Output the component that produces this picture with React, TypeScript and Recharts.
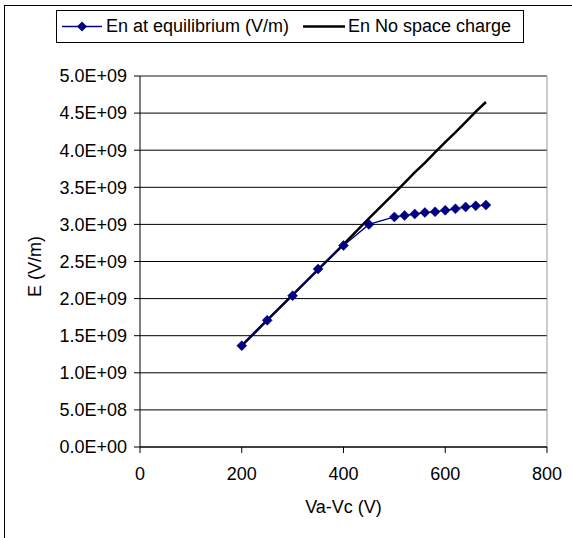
import React from 'react';
import {
  ComposedChart,
  Line,
  XAxis,
  YAxis,
  CartesianGrid,
  ReferenceLine,
  Legend,
  Label,
} from 'recharts';

const voltages = [200, 250, 300, 350, 400, 450, 500, 520, 540, 560, 580, 600, 620, 640, 660, 680];
const enEquilibrium = [
  1.365e9, 1.707e9, 2.04e9, 2.4e9, 2.716e9, 3.0e9, 3.1e9, 3.12e9, 3.14e9, 3.16e9, 3.17e9, 3.19e9,
  3.21e9, 3.235e9, 3.25e9, 3.26e9,
];
const enNoSpaceCharge = [
  1.365e9, 1.71e9, 2.05e9, 2.39e9, 2.73e9, 3.08e9, 3.42e9, 3.56e9, 3.7e9, 3.83e9, 3.97e9, 4.11e9,
  4.24e9, 4.38e9, 4.52e9, 4.65e9,
];
const xTicks = [0, 200, 400, 600, 800];
const yTicks = [0, 5e8, 1e9, 1.5e9, 2e9, 2.5e9, 3e9, 3.5e9, 4e9, 4.5e9, 5e9];
const seriesNames = ['En at equilibrium (V/m)', 'En No space charge'];
const xTitle = 'Va-Vc (V)';
const yTitle = 'E (V/m)';

const FONT = '"Liberation Sans", Arial, Helvetica, sans-serif';
const NAVY = '#000080';

const data = voltages.map((v, i) => ({ v, eq: enEquilibrium[i], nsc: enNoSpaceCharge[i] }));

const fmtY = (val: number) => {
  const [m, e] = val.toExponential(1).split('e');
  const sign = e[0] === '-' ? '-' : '+';
  const digits = e.replace(/[+-]/, '').padStart(2, '0');
  return `${m}E${sign}${digits}`;
};

const Diamond = (props: any) => {
  const { cx, cy } = props;
  if (cx == null || cy == null) return null;
  const r = 5;
  return (
    <polygon
      points={`${cx},${cy - r} ${cx + r},${cy} ${cx},${cy + r} ${cx - r},${cy}`}
      fill={NAVY}
      stroke={NAVY}
      strokeWidth={0.5}
    />
  );
};

const LegendBox = (props: any) => {
  const payload = props.payload || [];
  const eq = payload.find((p: any) => p.dataKey === 'eq');
  const nsc = payload.find((p: any) => p.dataKey === 'nsc');
  return (
    <div
      style={{
        width: 466,
        height: 31,
        border: '1px solid #000',
        background: '#fff',
        position: 'relative',
        fontFamily: FONT,
        fontSize: 18,
        color: '#000',
      }}
    >
      <svg width={44} height={31} style={{ position: 'absolute', left: 5, top: 0 }}>
        <line x1={0} y1={15.5} x2={40} y2={15.5} stroke={NAVY} strokeWidth={1.3} />
        <polygon points="20,10.5 25,15.5 20,20.5 15,15.5" fill={NAVY} />
      </svg>
      <span style={{ position: 'absolute', left: 49, top: 0, lineHeight: '31px', whiteSpace: 'nowrap' }}>
        {eq ? eq.value : seriesNames[0]}
      </span>
      <svg width={44} height={31} style={{ position: 'absolute', left: 246, top: 0 }}>
        <line x1={0} y1={15.5} x2={42} y2={15.5} stroke="#000" strokeWidth={2.5} />
      </svg>
      <span style={{ position: 'absolute', left: 291, top: 0, lineHeight: '31px', whiteSpace: 'nowrap' }}>
        {nsc ? nsc.value : seriesNames[1]}
      </span>
    </div>
  );
};

export default function App() {
  return (
    <div
      style={{
        position: 'fixed',
        left: 0,
        top: 0,
        width: 572,
        height: 538,
        overflow: 'hidden',
        background: '#fff',
      }}
    >
      <div
        style={{
          position: 'absolute',
          left: 4,
          top: 5,
          width: 700,
          height: 700,
          border: '1px solid #000',
          boxSizing: 'border-box',
        }}
      />
      <div style={{ position: 'absolute', left: 0, top: 0 }}>
        <ComposedChart
          width={572}
          height={538}
          data={data}
          margin={{ top: 76, right: 25, bottom: 0, left: 0 }}
          style={{ fontFamily: FONT }}
        >
          <CartesianGrid vertical={false} stroke="#000" strokeWidth={1} />
          <XAxis
            type="number"
            dataKey="v"
            domain={[0, 800]}
            ticks={xTicks}
            height={91}
            axisLine={{ stroke: '#000', strokeWidth: 1 }}
            tickLine={{ stroke: '#000' }}
            tickSize={6}
            tickMargin={14}
            tick={{ fontSize: 18, fill: '#000', fontFamily: FONT }}
            allowDataOverflow
          >
            <Label
              content={(p: any) => {
                const vb = p.viewBox || { x: 140, y: 447, width: 407, height: 91 };
                return (
                  <text
                    x={vb.x + vb.width / 2}
                    y={vb.y + 66}
                    textAnchor="middle"
                    fontSize={18}
                    fill="#000"
                    fontFamily={FONT}
                  >
                    {xTitle}
                  </text>
                );
              }}
            />
          </XAxis>
          <YAxis
            type="number"
            domain={[0, 5e9]}
            ticks={yTicks}
            width={140}
            tickFormatter={fmtY}
            axisLine={{ stroke: '#000', strokeWidth: 1 }}
            tickLine={{ stroke: '#000' }}
            tickSize={6}
            tickMargin={7}
            tick={{ fontSize: 18, fill: '#000', fontFamily: FONT }}
            allowDataOverflow
          >
            <Label
              content={(p: any) => {
                const vb = p.viewBox || { x: 0, y: 76, width: 140, height: 371 };
                const cx = vb.x + 41;
                const cy = vb.y + vb.height / 2 + 5;
                return (
                  <text
                    x={cx}
                    y={cy}
                    transform={`rotate(-90 ${cx} ${cy})`}
                    textAnchor="middle"
                    fontSize={18}
                    fill="#000"
                    fontFamily={FONT}
                  >
                    {yTitle}
                  </text>
                );
              }}
            />
          </YAxis>
          <ReferenceLine y={5e9} stroke="#999" strokeWidth={1} />
          <ReferenceLine x={800} stroke="#999" strokeWidth={1} />
          <Legend
            content={<LegendBox />}
            layout="vertical"
            verticalAlign="middle"
            align="center"
            wrapperStyle={{ left: 56, top: 10, width: 468, height: 33 }}
          />
          <Line
            type="linear"
            dataKey="nsc"
            name={seriesNames[1]}
            stroke="#000"
            strokeWidth={2.5}
            dot={false}
            activeDot={false}
            isAnimationActive={false}
          />
          <Line
            type="linear"
            dataKey="eq"
            name={seriesNames[0]}
            stroke={NAVY}
            strokeWidth={1.3}
            dot={<Diamond />}
            activeDot={false}
            isAnimationActive={false}
          />
        </ComposedChart>
      </div>
    </div>
  );
}
